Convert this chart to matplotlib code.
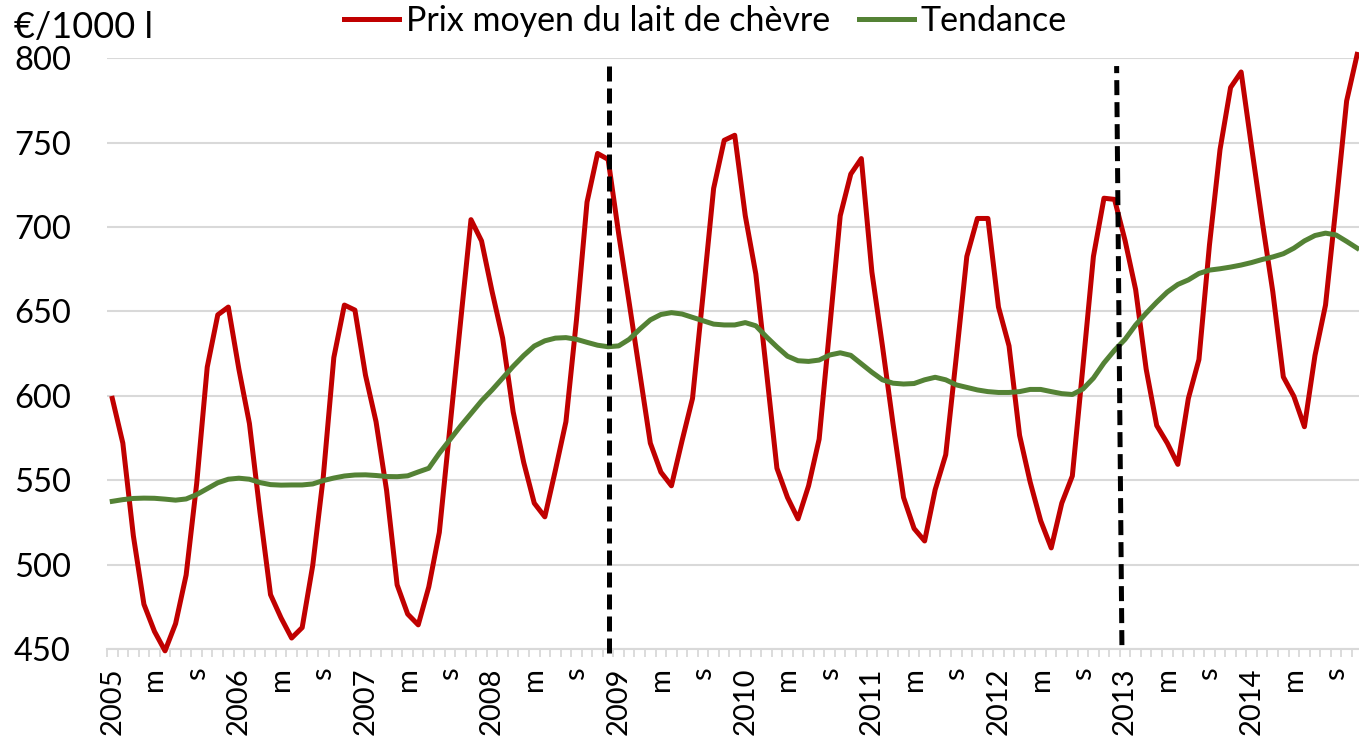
import matplotlib
matplotlib.use('Agg')
import matplotlib.pyplot as plt
import numpy as np

plt.rcParams['font.family'] = ['Lato', 'DejaVu Sans']

# prix moyen mensuel du lait de chèvre, janv. 2005 -> nov. 2014 (€/1000 l)
prix = [598.5, 572, 517, 476.5, 460.4, 448.9, 465, 493.8, 548, 617, 648, 652.6,
        615.8, 583.6, 531, 482.2, 468.4, 456.5, 462.7, 499.5, 552, 622.7, 653.8, 650.8,
        612.3, 584.7, 544, 488, 470.7, 464.3, 486.8, 519.1, 581, 643, 704.4, 691.8,
        661.8, 634.2, 590.5, 560.5, 536.4, 528.3, 555.9, 584.7, 645, 714.8, 743.6, 740.1,
        696, 655, 613.5, 572, 554.8, 546.7, 573.2, 598.5, 660, 722.9, 751.4, 754.4,
        706.7, 672.2, 615, 557.1, 539.8, 527.1, 546.7, 574.3, 640, 706.7, 731.4, 740.6,
        673.4, 629.6, 583.6, 539.8, 521.4, 514, 544.4, 565.1, 623, 682.6, 705.1, 705.1,
        652.6, 629.6, 576.6, 549, 526, 509.9, 536.4, 552.5, 617, 682.6, 717.1, 716.4,
        692, 663, 615.8, 582.4, 572, 559.4, 598.5, 621.5, 689.5, 745.9, 782.7, 791.9,
        747, 703.3, 661.8, 611.2, 599.7, 581.7, 623.9, 653.8, 713, 774.7, 802.3]

tendance = [537.5, 538.5, 539.2, 539.4, 539.3, 538.8, 538.2, 538.9, 541.5, 545, 548.5, 550.6,
            551.2, 550.6, 548.6, 547.4, 547.1, 547.2, 547.2, 547.8, 549.8, 551.3, 552.5, 553.1,
            553.2, 552.8, 552.2, 552.1, 552.6, 554.9, 557.1, 566, 574, 582, 589.5, 597,
            603.5, 610.5, 617.5, 623.9, 629.5, 632.6, 634.2, 634.5, 633.5, 631.7, 630, 629.1,
            629.6, 633.5, 639.5, 645, 648.2, 649.3, 648.5, 646.5, 644.5, 642.5, 642, 642,
            643.4, 641.5, 635, 629, 623.5, 620.8, 620.4, 621.2, 624.2, 625.5, 624, 619,
            614, 609.5, 607.5, 607, 607.3, 609.5, 611, 609.5, 606.5, 605, 603.5, 602.5,
            602, 602, 602.5, 603.8, 603.8, 602.5, 601.3, 600.8, 604, 610.5, 619.5, 627,
            633.5, 642, 649, 655.5, 661.5, 666, 668.7, 672.5, 674.5, 675.3, 676.3, 677.5,
            679, 680.8, 682.3, 684.2, 687.5, 691.8, 695, 696.4, 695.3, 691.5, 687.5]

annees = list(range(2005, 2015))
n_mois = 12 * len(annees)
# ruptures (pointillés) : position en mois, bas et haut
ruptures_x = [(47.1, 47.1), (95.7, 95.2)]
ruptures_y = [(447.7, 796.5), (452.3, 795.4)]

fig = plt.figure(figsize=(13.59, 7.36), dpi=100)
ax = fig.add_axes([107 / 1359, 1 - 649 / 736, 1266 / 1359, (649 - 58.3) / 736])

x = np.arange(len(prix))
l1, = ax.plot(x, prix, color='#c00000', lw=3.6, clip_on=False, zorder=3,
              label='Prix moyen du lait de chèvre')
l2, = ax.plot(np.arange(len(tendance)), tendance, color='#548235', lw=3.6,
              clip_on=False, zorder=3, label='Tendance')
for rx, ry in zip(ruptures_x, ruptures_y):
    ax.plot(rx, ry, color='black', lw=3.6, ls=(0, (3, 1.4)), clip_on=False, zorder=4)

ax.set_xlim(-0.5, n_mois - 0.5)
ax.set_ylim(450, 800)
ax.set_yticks(range(450, 801, 50))

labels = []
for a in annees:
    labels += [str(a), 'm', 's']
ax.set_xticks(np.arange(0, n_mois, 4))
ax.set_xticklabels(labels, rotation=90, fontsize=21)
ax.set_xticks(np.arange(-0.5, n_mois, 1), minor=True)
ax.tick_params(axis='x', which='major', length=0, pad=13)
ax.tick_params(axis='x', which='minor', length=6, width=1.3, color='#d9d9d9')
ax.tick_params(axis='y', length=0, pad=26, labelsize=23.5)

ax.yaxis.grid(True, color='#d9d9d9', lw=1.5)
ax.set_axisbelow(True)
for s in ['top', 'right', 'left']:
    ax.spines[s].set_visible(False)
ax.spines['bottom'].set_color('#d9d9d9')
ax.spines['bottom'].set_linewidth(1.5)

fig.text(14 / 1359, 1 - 38 / 736, '€/1000 l', fontsize=26, va='baseline')
fig.legend(handles=[l1, l2], loc='center', bbox_to_anchor=(0.519, 0.972), ncol=2,
           frameon=False, fontsize=24.5, handlelength=1.62, handletextpad=0.2,
           columnspacing=0.85, borderaxespad=0)

fig.savefig('out.png', dpi=100)
